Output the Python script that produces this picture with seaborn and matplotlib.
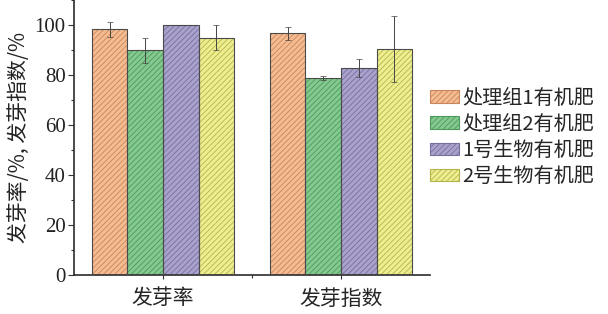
import matplotlib
matplotlib.use("Agg")
import matplotlib.pyplot as plt
import seaborn as sns
import pandas as pd
import numpy as np
from matplotlib.ticker import MultipleLocator
from matplotlib.patches import Patch

categories = ["发芽率", "发芽指数"]
series = ["处理组1有机肥", "处理组2有机肥", "1号生物有机肥", "2号生物有机肥"]
values = {
    "处理组1有机肥": [98.3, 96.7],
    "处理组2有机肥": [90.0, 78.9],
    "1号生物有机肥": [100.0, 82.8],
    "2号生物有机肥": [95.0, 90.4],
}
errors = {
    "处理组1有机肥": [3.0, 2.5],
    "处理组2有机肥": [5.0, 0.8],
    "1号生物有机肥": [0.0, 3.5],
    "2号生物有机肥": [5.0, 13.2],
}
fills = ["#F4BC90", "#84C98F", "#AAA2CC", "#EEEE90"]
hatch_cols = ["#C8865A", "#4C9A5C", "#77709F", "#B4B44C"]

rows = []
for s in series:
    for c, v in zip(categories, values[s]):
        rows.append({"cat": c, "series": s, "value": v})
df = pd.DataFrame(rows)

sns.set_theme(style="ticks")
plt.rcParams['font.family'] = ['Liberation Serif', 'Noto Sans CJK SC']
plt.rcParams['hatch.linewidth'] = 0.6

fig = plt.figure(figsize=(6.08, 3.14), dpi=100)
ax = fig.add_axes([74/608, 39/314, (430-74)/608, 275/314])

sns.barplot(data=df, x="cat", y="value", hue="series", order=categories,
            hue_order=series, palette=fills, errorbar=None, width=0.8,
            saturation=1, ax=ax, legend=False)

for i, (container, s) in enumerate(zip(ax.containers, series)):
    for j, bar in enumerate(container):
        bar.set_hatch("//////")
        bar.set_edgecolor(hatch_cols[i])
        bar.set_linewidth(0)
        x0, w, h = bar.get_x(), bar.get_width(), bar.get_height()
        ax.add_patch(plt.Rectangle((x0, 0), w, h, fill=False, edgecolor="#4a4a4a",
                                   linewidth=0.8, zorder=3))
        ax.errorbar(x0 + w/2, h, yerr=errors[s][j], fmt="none", ecolor="#444444",
                    elinewidth=0.7, capsize=2.5, capthick=0.5, zorder=4)

ax.set_ylim(0, 110)
ax.set_xlim(-0.5, 1.5)
ax.yaxis.set_major_locator(MultipleLocator(20))
ax.yaxis.set_minor_locator(MultipleLocator(10))
ax.set_xticks([0, 1])
ax.set_xticks([0.5], minor=True)
ax.set_xticklabels(categories, fontsize=15, family=['Noto Sans CJK SC'])
ax.tick_params(axis='y', labelsize=15, direction='out', length=4, width=0.8, color='#333333', pad=2)
ax.tick_params(axis='y', which='minor', length=2.5, width=0.8, color='#333333')
ax.tick_params(axis='x', direction='out', length=3, width=0.8, color='#333333', pad=6)
ax.tick_params(axis='x', which='minor', length=2, width=0.8, color='#333333')
for lab in ax.get_yticklabels():
    lab.set_color('#222222')
ax.set_xlabel("")
ax.set_ylabel("发芽率/%, 发芽指数/%", fontsize=15, family=['Noto Sans CJK SC', 'DejaVu Sans'],
              labelpad=3, color='#222222')
sns.despine(ax=ax)
ax.spines['left'].set_color('#333333')
ax.spines['bottom'].set_color('#333333')

handles = [Patch(facecolor=fills[i], edgecolor=hatch_cols[i], hatch="//////", linewidth=0.8)
           for i in range(len(series))]
leg = ax.legend(handles, series, loc='center left', bbox_to_anchor=(1.0, 0.50),
                frameon=False, prop={'family': ['Noto Sans CJK SC'], 'size': 14.5},
                handlelength=1.45, handleheight=0.6, handletextpad=0.15,
                labelspacing=0.25, borderaxespad=0.0, borderpad=0.0)

fig.savefig("out.png", dpi=100)
